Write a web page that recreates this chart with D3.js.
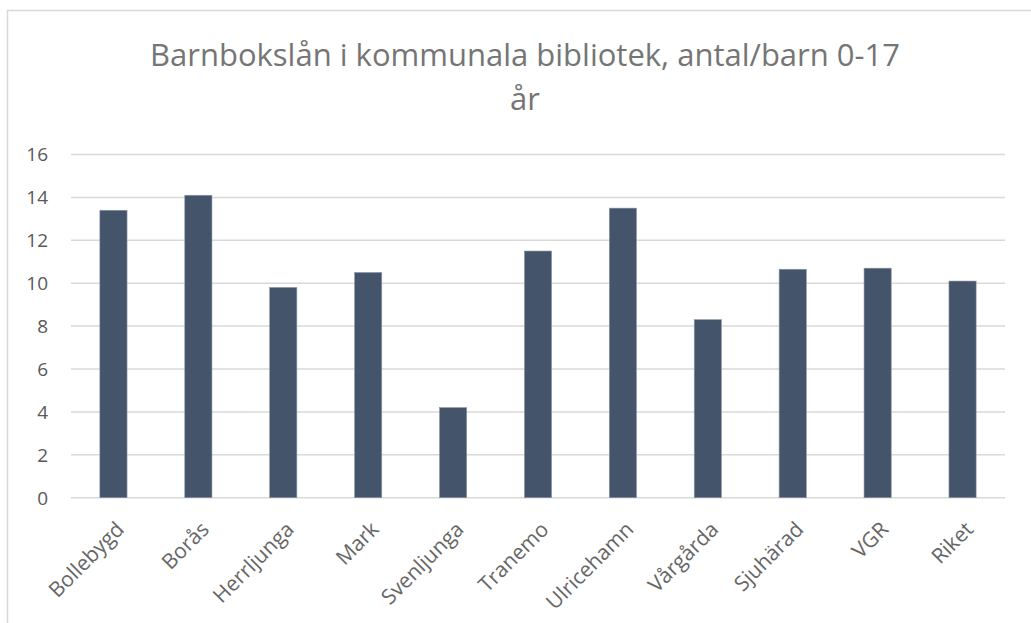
<!DOCTYPE html>
<html>
<head>
<meta charset="utf-8">
<script src="https://cdn.jsdelivr.net/npm/d3@7"></script>
<style>
  body { margin: 0; background: #fff; }
  text { font-family: "Open Sans", "Noto Sans", sans-serif; }
</style>
</head>
<body>
<div id="chart"></div>
<script>
// data
var categories = ["Bollebygd", "Borås", "Herrljunga", "Mark", "Svenljunga", "Tranemo",
                  "Ulricehamn", "Vårgårda", "Sjuhärad", "VGR", "Riket"];
var values = [13.4, 14.1, 9.8, 10.5, 4.2, 11.5, 13.5, 8.3, 10.65, 10.7, 10.1];
var yTicks = [0, 2, 4, 6, 8, 10, 12, 14, 16];
var titleLines = ["Barnbokslån i kommunala bibliotek, antal/barn 0-17", "år"];

const width = 1031;
const height = 623;
const plotLeft = 71, plotRight = 1005, plotTop = 154.5, plotBottom = 497.7;

var svg = d3.select("#chart")
    .append("svg")
    .attr("width", width)
    .attr("height", height);

// chart frame (only top and left visible)
svg.append("path")
    .attr("d", "M7.5," + height + "V10.5H" + width)
    .attr("fill", "none")
    .attr("stroke", "#d9d9d9")
    .attr("stroke-width", 1.5);

var x = d3.scaleBand()
    .domain(categories)
    .range([plotLeft, plotRight])
    .padding(0);

var y = d3.scaleLinear()
    .domain([0, 16])
    .range([plotBottom, plotTop]);

// gridlines
svg.append("g")
    .selectAll("line")
    .data(yTicks)
    .enter()
    .append("line")
    .attr("x1", plotLeft)
    .attr("x2", plotRight)
    .attr("y1", d => y(d))
    .attr("y2", d => y(d))
    .attr("stroke", "#d9d9d9")
    .attr("stroke-width", 1.5);

// y labels
svg.append("g")
    .selectAll("text")
    .data(yTicks)
    .enter()
    .append("text")
    .attr("x", 48)
    .attr("y", d => y(d))
    .attr("dy", "0.36em")
    .attr("text-anchor", "end")
    .attr("font-size", 19)
    .attr("fill", "#595959")
    .text(d => d);

// bars
var barW = x.bandwidth() * 0.32;
svg.append("g")
    .selectAll("rect")
    .data(values)
    .enter()
    .append("rect")
    .attr("x", (d, i) => x(categories[i]) + x.bandwidth() / 2 - barW / 2)
    .attr("y", d => y(d))
    .attr("width", barW)
    .attr("height", d => y(0) - y(d))
    .attr("fill", "#44546a")
    .attr("stroke", "#8a97a4")
    .attr("stroke-width", 0.6);

// x labels, rotated
svg.append("g")
    .selectAll("text")
    .data(categories)
    .enter()
    .append("text")
    .attr("transform", d => "translate(" + (x(d) + x.bandwidth() / 2 + 12) + "," + (plotBottom + 33) + ") rotate(-45)")
    .attr("text-anchor", "end")
    .attr("font-size", 21)
    .attr("fill", "#666666")
    .text(d => d);

// title
var title = svg.append("g");
titleLines.forEach(function (t, i) {
    var tx = title.append("text")
        .attr("x", 525)
        .attr("y", 66 + i * 44)
        .attr("text-anchor", "middle")
        .attr("font-size", 31)
        .attr("fill", "#757575")
        .text(t);
    if (i == 0) {
        var len = tx.node().getComputedTextLength();
        if (len > 784) tx.attr("textLength", 784).attr("lengthAdjust", "spacingAndGlyphs");
    }
});
</script>
</body>
</html>
